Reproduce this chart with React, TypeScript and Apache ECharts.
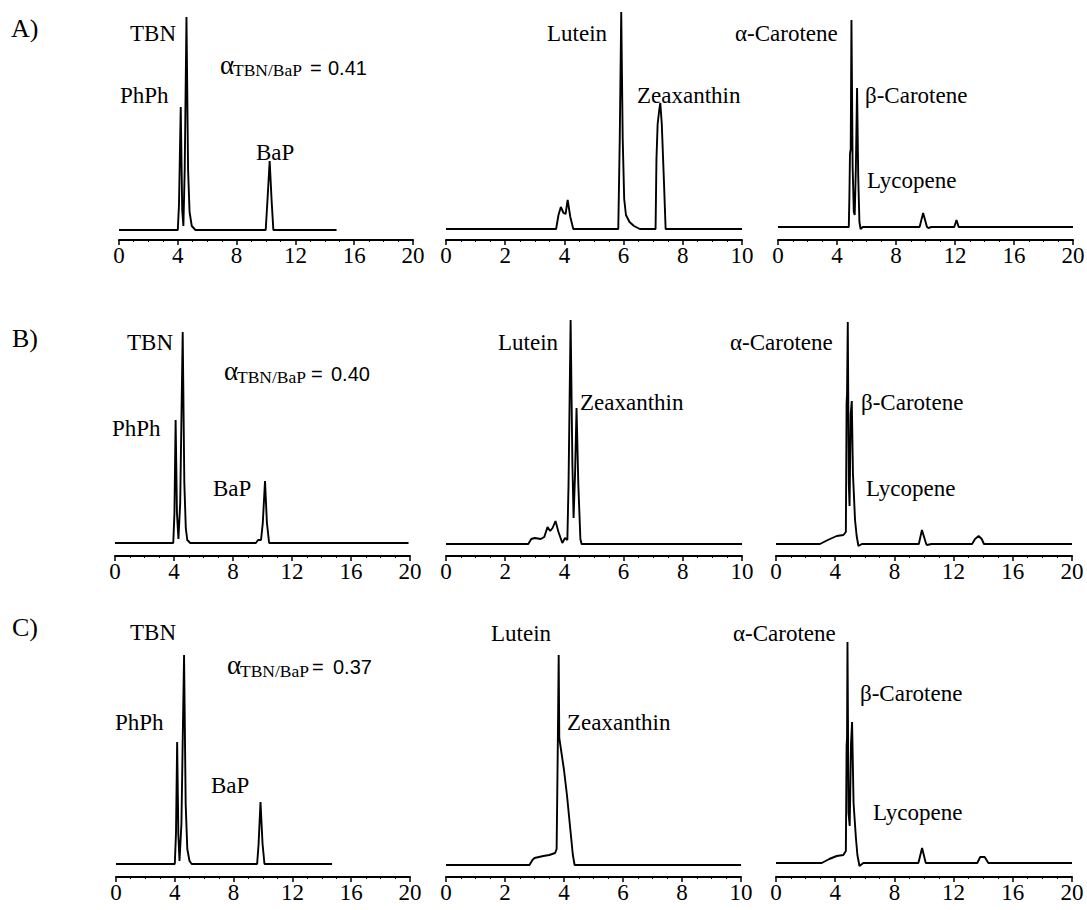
import React, { useEffect, useRef } from "react";
import * as echarts from "echarts";

// ---- Data: retention time (min) vs detector signal (arbitrary units, baseline = 0) ----
const rowNames = ["A)", "B)", "C)"];
const alphaValues = ["0.41", "0.40", "0.37"];
const colXMax = [20, 10, 20];
const colXInterval = [4, 2, 4];

// Row A
const traceA1: number[][] = [[0,0],[4.0,0],[4.08,25],[4.2,123],[4.3,20],[4.38,4],[4.47,60],[4.59,213],[4.7,60],[4.8,18],[4.95,4],[5.2,0],[9.98,0],[10.1,30],[10.25,69],[10.38,30],[10.5,0],[14.8,0]];
const traceA2: number[][] = [[0,0],[3.72,0],[3.8,14],[3.88,22],[3.97,16],[4.04,15],[4.11,29],[4.2,12],[4.3,0],[5.82,0],[5.87,90],[5.92,217],[5.97,90],[6.02,30],[6.08,14],[6.2,7],[6.35,3],[6.55,0],[7.08,0],[7.11,70],[7.15,105],[7.2,118],[7.24,126],[7.29,105],[7.36,50],[7.42,0],[10,0]];
const traceA3: number[][] = [[0,0],[4.8,0],[4.84,30],[4.88,73],[4.93,78],[4.98,207],[5.06,60],[5.14,15],[5.2,12],[5.28,60],[5.36,139],[5.44,50],[5.52,5],[5.6,-2],[5.75,0],[9.6,0],[9.84,14],[10.1,0],[10.2,-1],[10.4,0],[11.95,0],[12.1,7],[12.25,0],[20,0]];
// Row B
const traceB1: number[][] = [[0,0],[3.95,0],[4.03,30],[4.11,123],[4.2,30],[4.3,4],[4.42,40],[4.59,211],[4.7,60],[4.8,15],[4.9,3],[5.1,0],[9.55,0],[9.7,3],[9.9,3],[10.02,20],[10.17,62],[10.3,20],[10.45,0],[19.9,0]];
const traceB2: number[][] = [[0,0],[2.78,0],[2.88,5],[3.0,6],[3.2,5],[3.32,7],[3.43,17],[3.52,13],[3.6,16],[3.7,23],[3.8,12],[3.93,1],[4.02,6],[4.1,4],[4.14,60],[4.21,224],[4.27,80],[4.31,26],[4.36,70],[4.41,136],[4.47,60],[4.54,5],[4.58,0],[10,0]];
const traceB3: number[][] = [[0,0],[2.97,0],[3.5,4],[4.1,8],[4.55,9],[4.72,12],[4.77,141],[4.8,150],[4.85,222],[4.92,60],[4.97,38],[5.05,130],[5.12,143],[5.2,70],[5.34,24],[5.45,8],[5.57,-2],[5.8,0],[9.65,0],[9.86,14],[10.15,0],[10.2,-1],[10.5,0],[13.25,0],[13.45,5],[13.69,8],[13.9,5],[14.05,0],[20,0]];
// Row C
const traceC1: number[][] = [[0,0],[4.0,0],[4.08,30],[4.16,122],[4.24,30],[4.32,3],[4.45,40],[4.63,209],[4.74,60],[4.85,15],[5.0,3],[5.15,0],[9.6,0],[9.7,20],[9.83,62],[9.97,20],[10.1,0],[14.7,0]];
const traceC2: number[][] = [[0,0],[2.83,0],[2.93,5],[3.0,7],[3.3,9],[3.5,10],[3.7,12],[3.75,16],[3.79,120],[3.82,210],[3.84,127],[3.9,115],[4.0,95],[4.1,70],[4.2,40],[4.3,10],[4.36,0],[10,0]];
const traceC3: number[][] = [[0,0],[3.09,0],[3.6,4],[4.1,7],[4.55,8],[4.72,12],[4.77,117],[4.8,125],[4.83,221],[4.9,50],[4.98,37],[5.07,120],[5.14,141],[5.24,60],[5.4,25],[5.5,8],[5.64,-3],[5.9,0],[9.62,0],[9.87,15],[10.12,0],[13.6,0],[13.8,6],[14.1,6],[14.35,0],[20,0]];

const traces = [
  [traceA1, traceA2, traceA3],
  [traceB1, traceB2, traceB3],
  [traceC1, traceC2, traceC3],
];

const peakNames = ["TBN", "PhPh", "BaP", "Lutein", "Zeaxanthin", "α-Carotene", "β-Carotene", "Lycopene"];

// ---- Layout ----
const rowAxisY = [240, 556, 877];
const panelLayout = [
  [{ left: 119, width: 294, off: 10 }, { left: 446, width: 296, off: 11 }, { left: 778, width: 295, off: 13 }],
  [{ left: 115, width: 295, off: 13 }, { left: 446, width: 296, off: 12 }, { left: 776, width: 296, off: 12 }],
  [{ left: 116, width: 294, off: 13 }, { left: 446, width: 295, off: 12 }, { left: 776, width: 296, off: 14 }],
];
const rowLabelPos = [[11, 28.5], [12, 338], [12, 627]];
// [x, y] for each peak name, per row
const peakLabelPos = [
  [[130, 33], [120, 95], [256, 152], [547, 33], [637, 95], [735, 33], [865, 95], [867, 180]],
  [[127, 342], [112, 428], [213, 488], [498, 342], [580, 402], [730, 342], [861, 402], [866, 488]],
  [[130, 632], [115, 722], [211, 785], [491, 633], [567, 722], [733, 633], [860, 693], [873, 812]],
];
// alpha label: [alphaX, alphaY, subX, subY, eqX, numX, numY]
const alphaLabelPos = [
  [220, 65, 233, 70, 310, 328, 67.5],
  [224, 371, 237, 377, 311, 331, 373.5],
  [227, 665, 240, 671, 312, 333, 666.5],
];

const SERIF = "'Liberation Serif', 'Times New Roman', serif";
const SANS = "'Liberation Sans', Arial, sans-serif";
const PANEL_H = 240;

function buildOption() {
  const grid: any[] = [];
  const xAxis: any[] = [];
  const yAxis: any[] = [];
  const series: any[] = [];
  const graphic: any[] = [];
  let idx = 0;
  for (let r = 0; r < 3; r++) {
    for (let c = 0; c < 3; c++) {
      const L = panelLayout[r][c];
      grid.push({
        left: L.left,
        top: rowAxisY[r] - PANEL_H,
        width: L.width,
        height: PANEL_H,
        containLabel: false,
        outerBoundsMode: "none",
      });
      xAxis.push({
        type: "value",
        gridIndex: idx,
        min: 0,
        max: colXMax[c],
        interval: colXInterval[c],
        axisLine: { show: true, onZero: false, lineStyle: { color: "#000", width: 2 } },
        axisTick: { show: true, inside: false, length: 5, lineStyle: { color: "#000", width: 1.5 } },
        minorTick: { show: true, splitNumber: 4, length: 2, lineStyle: { color: "#000", width: 1 } },
        axisLabel: {
          show: true,
          color: "#000",
          fontFamily: SERIF,
          fontSize: 23,
          margin: 4,
          hideOverlap: false,
          showMinLabel: true,
          showMaxLabel: true,
        },
        splitLine: { show: false },
      });
      yAxis.push({
        type: "value",
        gridIndex: idx,
        show: false,
        min: -L.off,
        max: PANEL_H - L.off,
        splitLine: { show: false },
      });
      series.push({
        type: "line",
        xAxisIndex: idx,
        yAxisIndex: idx,
        data: traces[r][c],
        symbol: "none",
        showSymbol: false,
        smooth: false,
        clip: false,
        lineStyle: { color: "#000", width: 1.9 },
        silent: true,
      });
      idx++;
    }

    graphic.push({
      type: "text",
      x: rowLabelPos[r][0],
      y: rowLabelPos[r][1],
      style: { text: rowNames[r], fontSize: 26, fontFamily: SERIF, fill: "#000", align: "left", verticalAlign: "middle" },
    });
    peakNames.forEach((name, i) => {
      graphic.push({
        type: "text",
        x: peakLabelPos[r][i][0],
        y: peakLabelPos[r][i][1],
        style: { text: name, fontSize: 23, fontFamily: SERIF, fill: "#000", align: "left", verticalAlign: "middle" },
      });
    });
    const A = alphaLabelPos[r];
    graphic.push({
      type: "text", x: A[0], y: A[1],
      style: { text: "α", fontSize: 27, fontFamily: SERIF, fill: "#000", align: "left", verticalAlign: "middle" },
    });
    graphic.push({
      type: "text", x: A[2], y: A[3],
      style: { text: "TBN/BaP", fontSize: 17.5, fontFamily: SERIF, fill: "#000", align: "left", verticalAlign: "middle" },
    });
    graphic.push({
      type: "text", x: A[4], y: A[6],
      style: { text: "=", fontSize: 20, fontFamily: SANS, fill: "#000", align: "left", verticalAlign: "middle" },
    });
    graphic.push({
      type: "text", x: A[5], y: A[6],
      style: { text: alphaValues[r], fontSize: 20, fontFamily: SANS, fill: "#000", align: "left", verticalAlign: "middle" },
    });
  }

  return {
    animation: false,
    backgroundColor: "#fff",
    grid,
    xAxis,
    yAxis,
    series,
    graphic,
  };
}

export default function App() {
  const ref = useRef<HTMLDivElement>(null);
  useEffect(() => {
    if (!ref.current) return;
    const chart = echarts.init(ref.current, null, { renderer: "svg" });
    chart.setOption(buildOption() as any);
    return () => chart.dispose();
  }, []);
  return (
    <div
      ref={ref}
      style={{ position: "fixed", left: 0, top: 0, width: 1087, height: 910, background: "#fff" }}
    />
  );
}
